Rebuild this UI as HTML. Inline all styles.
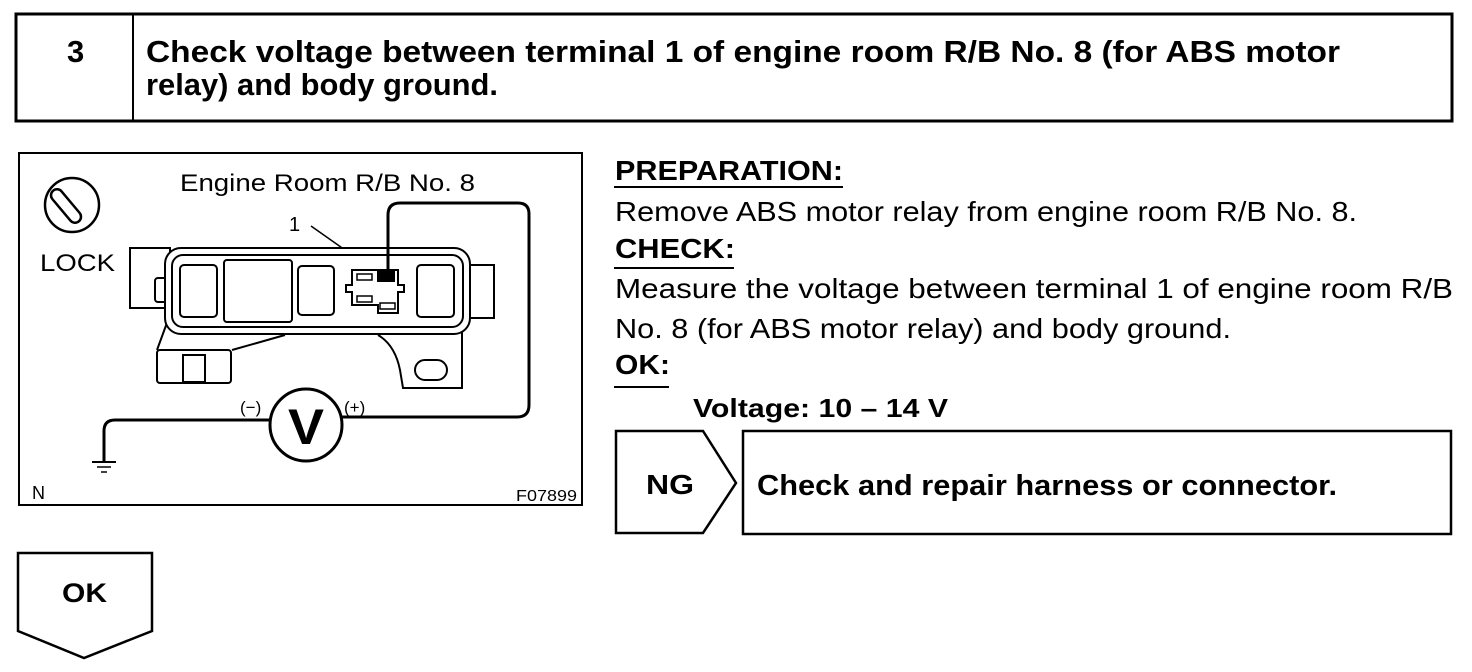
<!DOCTYPE html>
<html><head><meta charset="utf-8"><style>
html,body{margin:0;padding:0;background:#fff;}
svg{display:block;}
text{font-family:"Liberation Sans",Arial,sans-serif;fill:#000;}
</style></head><body>
<svg width="1472" height="672" viewBox="0 0 1472 672" xmlns="http://www.w3.org/2000/svg">
<!-- header -->
<rect x="16" y="14" width="1436" height="107" fill="none" stroke="#000" stroke-width="3"/>
<line x1="133" y1="14" x2="133" y2="121" stroke="#000" stroke-width="2"/>
<text x="67" y="62" font-size="31" font-weight="bold">3</text>
<text x="146" y="62" font-size="31" font-weight="bold" textLength="1194" lengthAdjust="spacingAndGlyphs">Check voltage between terminal 1 of engine room R/B No. 8 (for ABS motor</text>
<text x="146" y="95" font-size="31" font-weight="bold" textLength="352" lengthAdjust="spacingAndGlyphs">relay) and body ground.</text>

<!-- diagram box -->
<rect x="19" y="153" width="563" height="352" fill="none" stroke="#000" stroke-width="2"/>
<circle cx="72" cy="205" r="27" fill="none" stroke="#000" stroke-width="2.5"/>
<rect x="60" y="186" width="12" height="40" rx="6" transform="rotate(-40 66 206)" fill="none" stroke="#000" stroke-width="2.5"/>
<text x="40" y="271" font-size="24" textLength="75" lengthAdjust="spacingAndGlyphs">LOCK</text>
<text x="180" y="191" font-size="24" textLength="295" lengthAdjust="spacingAndGlyphs">Engine Room R/B No. 8</text>
<text x="289" y="231" font-size="20">1</text>
<line x1="311" y1="226" x2="372" y2="269" stroke="#000" stroke-width="1.5"/>
<!-- housing -->
<rect x="130" y="248" width="40" height="60" fill="none" stroke="#000" stroke-width="2"/>
<rect x="155" y="278" width="12" height="24" rx="3" fill="#fff" stroke="#000" stroke-width="2"/>
<rect x="465" y="265" width="29" height="53" fill="#fff" stroke="#000" stroke-width="2"/>
<path d="M378 335 Q395 345 400 370 L403 388 L462 388 L462 332" fill="none" stroke="#000" stroke-width="2"/>
<rect x="415" y="360" width="32" height="20" rx="10" fill="none" stroke="#000" stroke-width="2"/>
<path d="M168 320 L157 350 M232 350 L285 335" fill="none" stroke="#000" stroke-width="2"/>
<rect x="157" y="350" width="74" height="33" rx="3" fill="#fff" stroke="#000" stroke-width="2"/>
<rect x="183" y="355" width="22" height="27" fill="none" stroke="#000" stroke-width="2"/>
<rect x="165" y="248" width="305" height="86" rx="16" fill="#fff" stroke="#000" stroke-width="2"/>
<rect x="172" y="255" width="291" height="72" rx="11" fill="none" stroke="#000" stroke-width="2"/>
<rect x="180" y="265" width="37" height="52" rx="4" fill="none" stroke="#000" stroke-width="2"/>
<rect x="224" y="260" width="68" height="62" rx="3" fill="none" stroke="#000" stroke-width="2"/>
<rect x="298" y="266" width="36" height="49" rx="4" fill="none" stroke="#000" stroke-width="2"/>
<rect x="417" y="265" width="37" height="52" rx="4" fill="none" stroke="#000" stroke-width="2"/>
<path d="M352 270 H398 V285 H404 V292 H398 V313 H378 V305 H352 V292 H346 V285 H352 Z" fill="#fff" stroke="#000" stroke-width="2"/>
<rect x="357" y="274" width="15" height="6" fill="none" stroke="#000" stroke-width="1.5"/>
<rect x="377" y="271" width="18" height="11" fill="#000"/>
<rect x="357" y="296" width="15" height="6" fill="none" stroke="#000" stroke-width="1.5"/>
<rect x="380" y="303" width="15" height="6" fill="none" stroke="#000" stroke-width="1.5"/>
<!-- wires -->
<path d="M388 277 V215 Q388 203 400 203 H518 Q529 203 529 214 V405 Q529 417 517 417 H342" fill="none" stroke="#000" stroke-width="3"/>
<path d="M270 420 H115 Q104 420 104 431 V462" fill="none" stroke="#000" stroke-width="3"/>
<line x1="92" y1="462" x2="116" y2="462" stroke="#000" stroke-width="2"/>
<line x1="97" y1="467" x2="111" y2="467" stroke="#000" stroke-width="1.5"/>
<line x1="101" y1="472" x2="107" y2="472" stroke="#000" stroke-width="1.5"/>
<circle cx="306" cy="425" r="36" fill="#fff" stroke="#000" stroke-width="3"/>
<text x="306" y="444" font-size="50" font-weight="bold" text-anchor="middle" textLength="36" lengthAdjust="spacingAndGlyphs">V</text>
<text x="240" y="413" font-size="17">(−)</text>
<text x="344" y="413" font-size="17">(+)</text>
<text x="32" y="499" font-size="18">N</text>
<text x="516" y="501" font-size="16" textLength="61" lengthAdjust="spacingAndGlyphs">F07899</text>

<!-- right text -->
<text x="615" y="180" font-size="28" font-weight="bold" textLength="228" lengthAdjust="spacingAndGlyphs">PREPARATION:</text>
<line x1="614" y1="187" x2="843" y2="187" stroke="#000" stroke-width="2"/>
<text x="615" y="221" font-size="28" textLength="742" lengthAdjust="spacingAndGlyphs">Remove ABS motor relay from engine room R/B No. 8.</text>
<text x="615" y="258" font-size="28" font-weight="bold" textLength="120" lengthAdjust="spacingAndGlyphs">CHECK:</text>
<line x1="614" y1="268" x2="734" y2="268" stroke="#000" stroke-width="2"/>
<text x="615" y="298" font-size="28" textLength="838" lengthAdjust="spacingAndGlyphs">Measure the voltage between terminal 1 of engine room R/B</text>
<text x="615" y="338" font-size="28" textLength="616" lengthAdjust="spacingAndGlyphs">No. 8 (for ABS motor relay) and body ground.</text>
<text x="615" y="374" font-size="28" font-weight="bold" textLength="55" lengthAdjust="spacingAndGlyphs">OK:</text>
<line x1="614" y1="387" x2="669" y2="387" stroke="#000" stroke-width="2"/>
<text x="693" y="417" font-size="26" font-weight="bold" textLength="255" lengthAdjust="spacingAndGlyphs">Voltage: 10 – 14 V</text>

<!-- NG -->
<path d="M616 431 H703 L736 483 L703 533 H616 Z" fill="none" stroke="#000" stroke-width="2.5"/>
<text x="646" y="494" font-size="28" font-weight="bold" textLength="48" lengthAdjust="spacingAndGlyphs">NG</text>
<rect x="743" y="431" width="708" height="103" fill="none" stroke="#000" stroke-width="2.5"/>
<text x="757" y="495" font-size="29" font-weight="bold" textLength="580" lengthAdjust="spacingAndGlyphs">Check and repair harness or connector.</text>

<!-- OK -->
<path d="M18 553 H152 V631 L84 658 L18 631 Z" fill="none" stroke="#000" stroke-width="2.5"/>
<text x="62" y="602" font-size="27" font-weight="bold" textLength="45" lengthAdjust="spacingAndGlyphs">OK</text>
</svg>
</body></html>
